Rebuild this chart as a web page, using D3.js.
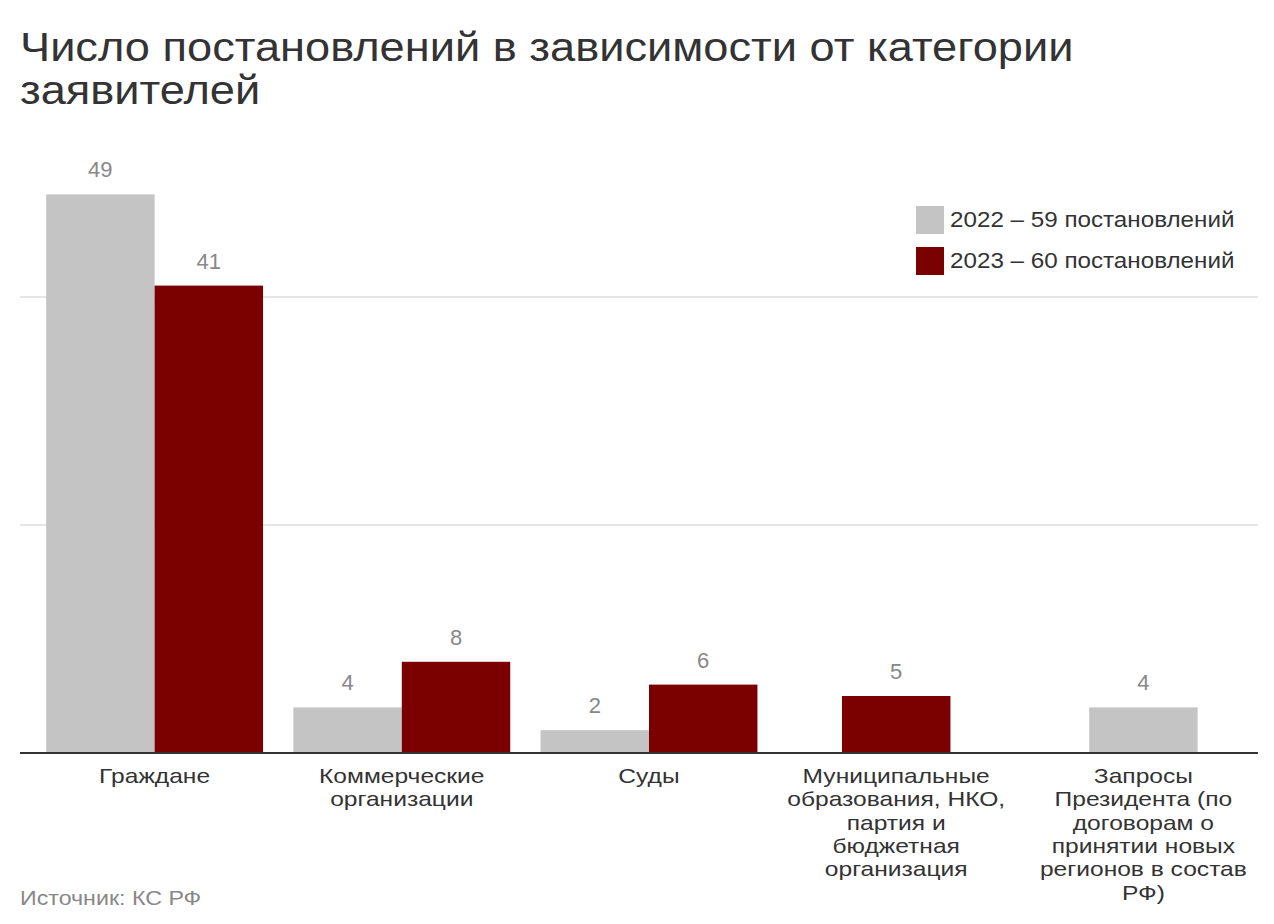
<!DOCTYPE html>
<html>
<head>
<meta charset="utf-8">
<script src="https://cdn.jsdelivr.net/npm/d3@7"></script>
<style>
  html, body { margin: 0; padding: 0; background: #fff; }
  svg { display: block; font-family: "Liberation Sans", Arial, Helvetica, sans-serif; }
</style>
</head>
<body>
<svg id="chart" width="1274" height="924"></svg>
<script>
// ---- Data ----
const categories = [
  "Граждане",
  "Коммерческие организации",
  "Суды",
  "Муниципальные образования, НКО, партия и бюджетная организация",
  "Запросы Президента (по договорам о принятии новых регионов в состав РФ)"
];
const tickLabelLines = [
  ["Граждане"],
  ["Коммерческие", "организации"],
  ["Суды"],
  ["Муниципальные", "образования, НКО,", "партия и", "бюджетная", "организация"],
  ["Запросы", "Президента (по", "договорам о", "принятии новых", "регионов в состав", "РФ)"]
];
const seriesKeys = ["2022", "2023"];
const values2022 = [49, 4, 2, null, 4];
const values2023 = [41, 8, 6, 5, null];
const legendLabels = ["2022 – 59 постановлений", "2023 – 60 постановлений"];
const gridTicks = [20, 40];
const titleLines = ["Число постановлений в зависимости от категории", "заявителей"];
const sourceText = "Источник: КС РФ";

// ---- Setup ----
const colors = { "2022": "#c4c4c4", "2023": "#7b0000" };
const svg = d3.select("#chart");

const plotLeft = 20, plotRight = 1258;
const baseY = 753;

// widen glyphs slightly to mimic the wider Helvetica Neue Cyrillic
function stretch(sel, factor) {
  sel.each(function() {
    const L = this.getComputedTextLength();
    d3.select(this).attr("textLength", L * factor).attr("lengthAdjust", "spacingAndGlyphs");
  });
}

const x = d3.scaleBand()
  .domain(categories)
  .range([31, 1267])
  .paddingInner(0.1226)
  .paddingOuter(0.0613);

const y = d3.scaleLinear().domain([0, 50]).range([baseY, baseY - 50 * 11.4]);

// Title
const title = svg.append("g").selectAll("text")
  .data(titleLines)
  .join("text")
  .attr("x", 20)
  .attr("y", (d, i) => 61 + i * 43)
  .attr("font-size", 40)
  .attr("fill", "#333")
  .text(d => d);
stretch(title, 1.13);

// Gridlines
svg.append("g").selectAll("line")
  .data(gridTicks)
  .join("line")
  .attr("x1", plotLeft).attr("x2", plotRight)
  .attr("y1", d => y(d)).attr("y2", d => y(d))
  .attr("stroke", "#e6e6e6")
  .attr("stroke-width", 2);

// Build rows
const rows = categories.map((c, i) => {
  const bars = [];
  if (values2022[i] != null) bars.push({ key: "2022", value: values2022[i], cat: c });
  if (values2023[i] != null) bars.push({ key: "2023", value: values2023[i], cat: c });
  return { cat: c, bars };
});

const bw = x.bandwidth();
const groups = svg.append("g").selectAll("g")
  .data(rows)
  .join("g")
  .attr("transform", d => `translate(${x(d.cat)},0)`);

groups.each(function(d) {
  const n = d.bars.length;
  const inner = d3.scaleBand()
    .domain(d.bars.map(b => b.key))
    .range([bw / 2 - n * bw / 4, bw / 2 + n * bw / 4]);
  const g = d3.select(this);
  g.selectAll("rect")
    .data(d.bars)
    .join("rect")
    .attr("x", b => inner(b.key))
    .attr("width", inner.bandwidth())
    .attr("y", b => y(b.value))
    .attr("height", b => y(0) - y(b.value))
    .attr("fill", b => colors[b.key]);
  g.selectAll("text.val")
    .data(d.bars)
    .join("text")
    .attr("class", "val")
    .attr("x", b => inner(b.key) + inner.bandwidth() / 2)
    .attr("y", b => y(b.value) - 17)
    .attr("text-anchor", "middle")
    .attr("font-size", 22)
    .attr("fill", "#888")
    .text(b => b.value);
});

// Baseline
svg.append("line")
  .attr("x1", plotLeft).attr("x2", plotRight)
  .attr("y1", y(0)).attr("y2", y(0))
  .attr("stroke", "#333")
  .attr("stroke-width", 2);

// X tick labels
const labelRows = [];
categories.forEach((c, i) => tickLabelLines[i].forEach((l, j) => labelRows.push({ cat: c, line: l, j })));
const xl = svg.append("g").selectAll("text")
  .data(labelRows)
  .join("text")
  .attr("text-anchor", "middle")
  .attr("font-size", 21)
  .attr("fill", "#333")
  .attr("x", d => x(d.cat) + bw / 2)
  .attr("y", d => 783 + d.j * 23.3)
  .text(d => d.line);
stretch(xl, 1.17);

// Legend
const lg = svg.append("g").selectAll("g")
  .data(seriesKeys)
  .join("g")
  .attr("transform", (d, i) => `translate(916,${206 + i * 41})`);
lg.append("rect").attr("width", 28).attr("height", 28).attr("fill", d => colors[d]);
const lt = lg.append("text")
  .attr("x", 34).attr("y", 21)
  .attr("font-size", 22)
  .attr("fill", "#333")
  .text((d, i) => legendLabels[i]);
stretch(lt, 1.1);

// Source
const src = svg.append("text")
  .attr("x", 20).attr("y", 905)
  .attr("font-size", 20)
  .attr("fill", "#888")
  .text(sourceText);
stretch(src, 1.16);
</script>
</body>
</html>
